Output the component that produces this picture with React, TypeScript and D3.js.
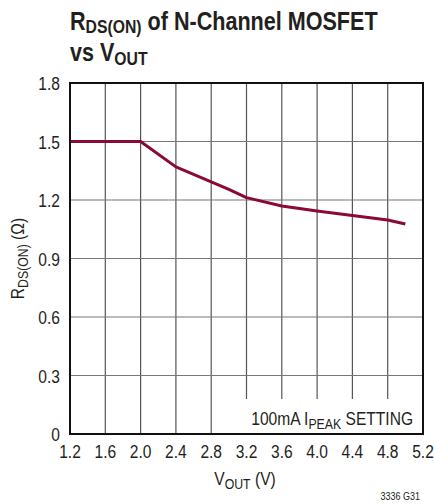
import React from 'react';
import * as d3 from 'd3';

const vout = [1.2, 1.6, 2.0, 2.4, 2.8, 3.0, 3.2, 3.6, 4.0, 4.4, 4.8, 5.0];
const rdson = [1.5, 1.5, 1.5, 1.37, 1.293, 1.255, 1.212, 1.169, 1.144, 1.12, 1.097, 1.077];
const xTicks = [1.2, 1.6, 2.0, 2.4, 2.8, 3.2, 3.6, 4.0, 4.4, 4.8, 5.2];
const yTicks = [0, 0.3, 0.6, 0.9, 1.2, 1.5, 1.8];

const FONT = "'Liberation Sans', Arial, sans-serif";
const INK = '#231f20';

// condensed text: Liberation Sans squeezed horizontally
const CText: React.FC<{
  x: number; y: number; size: number; anchor?: string; bold?: boolean;
  sx?: number; rotate?: number; children: React.ReactNode;
}> = ({ x, y, size, anchor = 'start', bold = false, sx = 0.82, rotate, children }) => (
  <g transform={`translate(${x},${y})${rotate ? ` rotate(${rotate})` : ''} scale(${sx},1)`}>
    <text fontSize={size} textAnchor={anchor} fontWeight={bold ? 'bold' : 'normal'} fill={INK}>
      {children}
    </text>
  </g>
);

const App: React.FC = () => {
  const width = 434;
  const height = 504;
  const margin = { left: 70, right: 11, top: 83, bottom: 70 };

  const x = d3.scaleLinear().domain([1.2, 5.2]).range([margin.left, width - margin.right]);
  const y = d3.scaleLinear().domain([0, 1.8]).range([height - margin.bottom, margin.top]);

  const line = d3.line<number>()
    .x((_, i) => x(vout[i]))
    .y(d => y(d));

  const [x0, x1] = x.range();
  const [y0, y1] = y.range();

  return (
    <svg width={width} height={height} style={{ position: 'absolute', left: 0, top: 0 }} fontFamily={FONT}>
      <rect width={width} height={height} fill="#fff" />

      {/* title */}
      <CText x={70} y={30} size={26} bold sx={0.83}>
        R<tspan fontSize={19} dy={3}>DS(ON)</tspan>
        <tspan dy={-3}> of N-Channel MOSFET</tspan>
      </CText>
      <CText x={70} y={61} size={26} bold sx={0.83}>
        vs V<tspan fontSize={19} dy={4}>OUT</tspan>
      </CText>

      {/* grid */}
      {xTicks.slice(1, -1).map(t => (
        <line key={'gx' + t} x1={x(t)} x2={x(t)} y1={y1} y2={y0} stroke="#555" strokeWidth={1.2} />
      ))}
      {yTicks.slice(1, -1).map(t => (
        <line key={'gy' + t} x1={x0} x2={x1} y1={y(t)} y2={y(t)} stroke="#777" strokeWidth={1.2} />
      ))}

      {/* annotation box */}
      <rect x={240} y={399} width={182} height={34} fill="#fff" />
      <CText x={413} y={425} size={19} anchor="end">
        100mA I<tspan fontSize={15} dy={4}>PEAK</tspan>
        <tspan dy={-4}> SETTING</tspan>
      </CText>

      {/* curve */}
      <path d={line(rdson) ?? ''} fill="none" stroke="#8b0a32" strokeWidth={3} strokeLinejoin="round" />

      {/* frame */}
      <rect x={x0} y={y1} width={x1 - x0} height={y0 - y1} fill="none" stroke="#111" strokeWidth={2} />

      {/* y ticks */}
      {yTicks.map(t => (
        <CText key={'yl' + t} x={60} y={y(t) + 7} size={19} anchor="end">
          {t === 0 ? '0' : t.toFixed(1)}
        </CText>
      ))}
      {/* x ticks */}
      {xTicks.map(t => (
        <CText key={'xl' + t} x={x(t)} y={458} size={19} anchor="middle">
          {t.toFixed(1)}
        </CText>
      ))}

      {/* axis titles */}
      <CText x={245} y={485} size={19} anchor="middle">
        V<tspan fontSize={15} dy={4}>OUT</tspan>
        <tspan dy={-4}> (V)</tspan>
      </CText>
      <CText x={24} y={(y0 + y1) / 2} size={19} anchor="middle" rotate={-90}>
        R<tspan fontSize={15} dy={4}>DS(ON)</tspan>
        <tspan dy={-4}> (Ω)</tspan>
      </CText>

      <CText x={420} y={500} size={11} anchor="end">3336 G31</CText>
    </svg>
  );
};

export default App;
